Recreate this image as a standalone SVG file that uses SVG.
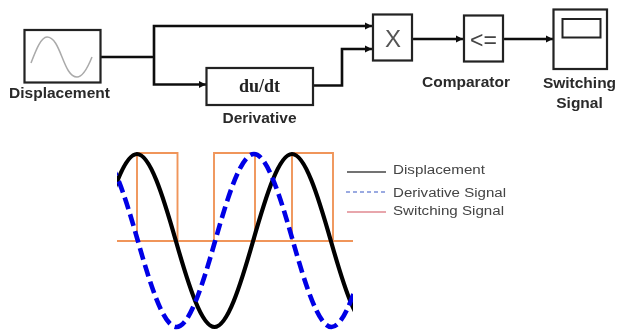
<svg xmlns="http://www.w3.org/2000/svg" width="618" height="336" viewBox="0 0 618 336">
<style>
.box{fill:#fff;stroke:#222;stroke-width:2.200}
.wire{fill:none;stroke:#111;stroke-width:2.600}
.lbl{font-family:"Liberation Sans",Arial,sans-serif;font-weight:bold;font-size:15.500px;fill:#2a2a2a;text-anchor:middle}
.leg{font-family:"Liberation Sans",Arial,sans-serif;font-size:12.500px;fill:#444}
.orange{fill:none;stroke:#f0955a;stroke-width:1.900}
</style>
<defs>
<marker id="arr" markerUnits="userSpaceOnUse" markerWidth="8" markerHeight="8" refX="7" refY="4" orient="auto"><path d="M0 0.500L7 4L0 7.500z" fill="#111"/></marker>
<clipPath id="plot"><rect x="117" y="148" width="236" height="186"/></clipPath>
<filter id="soft" x="-5%" y="-5%" width="110%" height="110%"><feGaussianBlur stdDeviation="0.4"/></filter>
</defs>
<g filter="url(#soft)">
<g id="connectors">
<path class="wire" d="M100 57H154"/>
<path class="wire" d="M154 57V26H372" marker-end="url(#arr)"/>
<path class="wire" d="M154 57V84.500H206" marker-end="url(#arr)"/>
<path class="wire" d="M313 85.500H342V49H372" marker-end="url(#arr)"/>
<path class="wire" d="M412 39H463" marker-end="url(#arr)"/>
<path class="wire" d="M503 39H553" marker-end="url(#arr)"/>
</g>
<g id="displacement">
<rect class="box" x="24.500" y="30" width="76" height="52.500"/>
<path d="M31 63C36 50 41 37 47 37C54 37 58 47 62 57C66 67 70 77 77 77C83 77 88 67 92 57" fill="none" stroke="#aaa" stroke-width="1.500"/>
<text class="lbl" x="59.500" y="98">Displacement</text>
</g>
<g id="derivative">
<rect class="box" x="206.500" y="68" width="106.500" height="37"/>
<text x="259.500" y="92" text-anchor="middle" font-family="'Liberation Serif',serif" font-weight="bold" font-size="18" fill="#222">du/dt</text>
<text class="lbl" x="259.500" y="123">Derivative</text>
</g>
<g id="product">
<rect class="box" x="373" y="14.500" width="39" height="46"/>
<text x="393" y="47" text-anchor="middle" font-family="'Liberation Sans',sans-serif" font-size="24" fill="#555">X</text>
</g>
<g id="comparator">
<rect class="box" x="464" y="15.500" width="39" height="46"/>
<text x="483.500" y="48" text-anchor="middle" font-family="'Liberation Sans',sans-serif" font-size="23" fill="#444">&lt;=</text>
<text class="lbl" x="466" y="87">Comparator</text>
</g>
<g id="switching">
<rect class="box" x="553.500" y="9.500" width="53.500" height="59.500"/>
<rect x="562.500" y="19" width="38" height="18.500" fill="#fff" stroke="#222" stroke-width="2"/>
<text class="lbl" x="579.500" y="88">Switching</text>
<text class="lbl" x="579.500" y="108">Signal</text>
</g>
<g id="plot-area" clip-path="url(#plot)">
<path class="orange" d="M117 241H353"/>
<path class="orange" d="M137 241V153H177.500V241"/>
<path class="orange" d="M214 241V153H255V241"/>
<path class="orange" d="M292 241V153H333V241"/>
<path fill="none" stroke="#000" stroke-width="4.200" d="M98.250 240.500C111.170 195.200 124.080 154 137 154C149.920 154 162.830 195.200 175.750 240.500C188.670 285.800 201.580 327 214.500 327C227.420 327 240.330 285.800 253.250 240.500C266.170 195.200 279.080 154 292 154C304.920 154 317.830 195.200 330.750 240.500C343.670 285.800 356.580 327 369.500 327"/>
<path fill="none" stroke="#0000e6" stroke-width="4.600" stroke-dasharray="12 5.500" d="M99 154C111.920 154 124.830 195.200 137.750 240.500C150.670 285.800 163.580 327 176.500 327C189.420 327 202.330 285.800 215.250 240.500C228.170 195.200 241.080 154 254 154C266.920 154 279.830 195.200 292.750 240.500C305.670 285.800 318.580 327 331.500 327C344.420 327 357.330 285.800 370.250 240.500"/>
</g>
<g id="legend">
<path d="M347 172H386" stroke="#444" stroke-width="1.300"/>
<path d="M346 192H386" stroke="#7a8fd8" stroke-width="1.300" stroke-dasharray="4 3"/>
<path d="M347 212H386" stroke="#e08890" stroke-width="1.600"/>
<text class="leg" x="393" y="173.500" textLength="92" lengthAdjust="spacingAndGlyphs">Displacement</text>
<text class="leg" x="393" y="196.500" textLength="113" lengthAdjust="spacingAndGlyphs">Derivative Signal</text>
<text class="leg" x="393" y="215" textLength="111" lengthAdjust="spacingAndGlyphs">Switching Signal</text>
</g>
</g>
</svg>
